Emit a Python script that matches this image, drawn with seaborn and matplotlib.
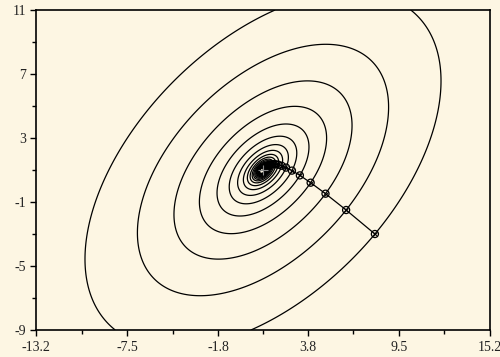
import numpy as np
import pandas as pd
import matplotlib
matplotlib.use("Agg")
import matplotlib.pyplot as plt
import seaborn as sns

# gradient descent iterates
path_x = [8.0, 6.2, 4.91, 3.98, 3.305, 2.81, 2.444, 2.17, 1.963, 1.803, 1.678,
          1.579, 1.5, 1.435, 1.38, 1.335, 1.296, 1.263, 1.234, 1.209, 1.187]
path_y = [-3.0, -1.5, -0.48, 0.207, 0.664, 0.961, 1.15, 1.265, 1.329, 1.359, 1.368,
          1.362, 1.348, 1.328, 1.306, 1.283, 1.26, 1.237, 1.216, 1.196, 1.178]
minimum = (1.0, 1.0)

# quadratic surface coefficients: a*dx^2 + b*dx*dy + c*dy^2
a, b, c = 1.0, -1.0, 1.0

x_ticks = [-13.2, -7.5, -1.8, 3.8, 9.5, 15.2]
x_minor = [-10.35, -4.65, 1.0, 6.65, 12.35]
y_ticks = [-9, -5, -1, 3, 7, 11]
y_minor = [-7, -3, 1, 5, 9]

bg = "#fdf6e3"

sns.set_theme(style="ticks")
plt.rcParams["font.family"] = ["Liberation Serif", "DejaVu Serif"]

df = pd.DataFrame({"x": path_x, "y": path_y})


def surface(x, y):
    dx = x - minimum[0]
    dy = y - minimum[1]
    return a * dx ** 2 + b * dx * dy + c * dy ** 2


fig = plt.figure(figsize=(5, 3.57), dpi=100, facecolor=bg)
ax = fig.add_axes([0.072, 0.0756, 0.908, 0.8964])
ax.set_facecolor(bg)

gx, gy = np.meshgrid(np.linspace(-13.2, 15.2, 500), np.linspace(-9, 11, 400))
levels = sorted(set(surface(np.array(path_x), np.array(path_y))))
ax.contour(gx, gy, surface(gx, gy), levels=levels, colors="black", linewidths=0.9)

sns.lineplot(data=df, x="x", y="y", sort=False, color="black", lw=0.9, ax=ax)
sns.scatterplot(data=df, x="x", y="y", marker="o", s=26, facecolor="none",
                edgecolor="black", linewidth=0.9, ax=ax, zorder=4)
sns.scatterplot(data=df, x="x", y="y", marker="x", s=9, color="black",
                linewidth=0.7, ax=ax, zorder=4)
ax.plot(*minimum, marker="+", ms=7, mew=0.8, color="#888888", zorder=5)

ax.set_xlim(-13.2, 15.2)
ax.set_ylim(-9, 11)
ax.set_xticks(x_ticks)
ax.set_xticklabels([str(t) for t in x_ticks])
ax.set_xticks(x_minor, minor=True)
ax.set_yticks(y_ticks)
ax.set_yticklabels([str(t) for t in y_ticks])
ax.set_yticks(y_minor, minor=True)
ax.tick_params(which="major", direction="out", length=4, width=1, labelsize=10,
               colors="black", labelcolor="#222222", pad=3)
ax.tick_params(axis="x", which="major", pad=4)
ax.tick_params(which="minor", direction="out", length=3, width=1, colors="black")
ax.set_xlabel("")
ax.set_ylabel("")
for sp in ax.spines.values():
    sp.set_visible(True)
    sp.set_color("black")
    sp.set_linewidth(1.2)

fig.savefig("out.png", dpi=100, facecolor=bg)
